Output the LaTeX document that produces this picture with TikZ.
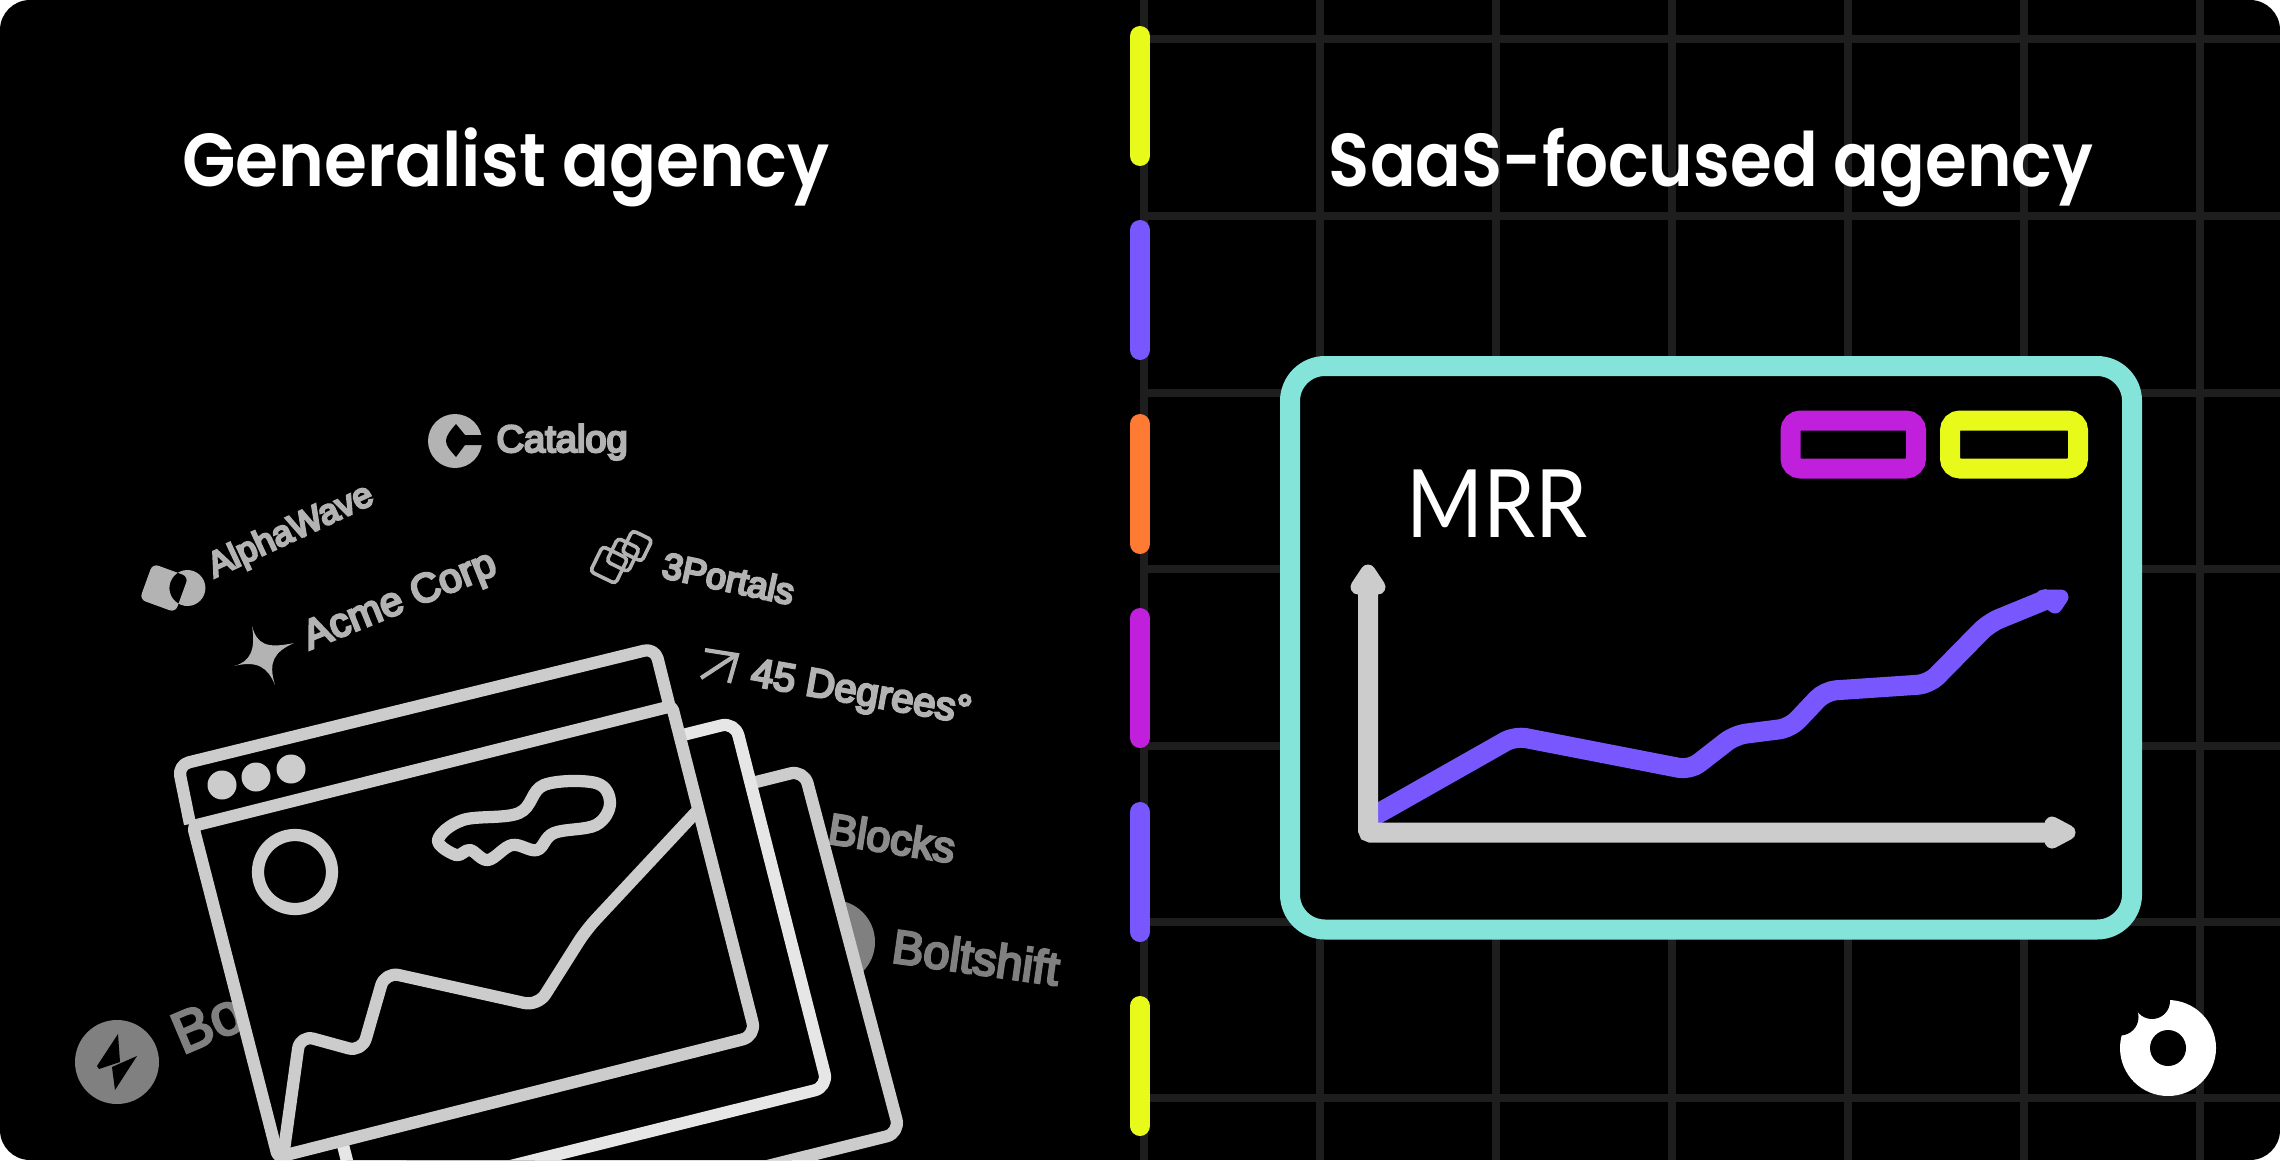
\documentclass[tikz,border=0pt]{standalone}
\usepackage{fontspec}
\setmainfont{Liberation Sans}
\newfontfamily\titlefont{Poppins SemiBold}
\newfontfamily\mrrfont{Lato}
\newcommand{\logosize}[1]{\fontsize{#1}{#1}\selectfont}
\newcommand{\medtext}[1]{\special{pdf:code 2 Tr 0.85 w}#1\special{pdf:code 0 Tr}}
\definecolor{barYellow}{RGB}{232,250,25}
\definecolor{barPurple}{RGB}{120,87,255}
\definecolor{barOrange}{RGB}{255,122,51}
\definecolor{barMagenta}{RGB}{192,32,220}
\definecolor{cardTeal}{RGB}{132,228,218}
\definecolor{gridGray}{RGB}{30,30,30}
\definecolor{frameGray}{RGB}{204,204,204}
\definecolor{frameLight}{RGB}{230,230,230}
\definecolor{logoGray}{RGB}{179,179,179}
\definecolor{logoMid}{RGB}{140,140,140}
\definecolor{logoDark}{RGB}{128,128,128}
\tikzset{
  gridline/.style={draw=gridGray,line width=2.88pt},
  sidebar/.style={line width=7.2pt,line cap=round},
  windowframe/.style={line width=4.4pt,fill=black,line join=round},
  windowline/.style={draw=frameGray,line width=4.4pt,line join=round},
  plotline/.style={line width=7.2pt,rounded corners=4pt},
  tiphead/.style={line width=5.4pt,line join=round},
  tagbox/.style={line width=7.2pt,rounded corners=3.6pt},
  logotext/.style={anchor=base west,inner sep=0pt,text=logoGray},
  titletext/.style={anchor=base,inner sep=0pt,text=white,font=\titlefont\logosize{27}},
}
\begin{document}
\begin{tikzpicture}[x=0.36pt,y=0.36pt,yscale=-1,xscale=1]
\useasboundingbox (0,0) rectangle (2280,1160);
\fill[white] (0,0) rectangle (2280,1160);
\clip[rounded corners=10.8pt] (0,0) rectangle (2280,1160);
\fill[black] (0,0) rectangle (2280,1160);

%Grid lines
\foreach \gx in {1144,1320,1496,1672,1848,2024,2200}
  \draw[gridline] (\gx,0) -- (\gx,1160);
\foreach \gy in {39.5,216,392.5,569,745.5,922,1098}
  \draw[gridline] (1144,\gy) -- (2280,\gy);

%Side bars
\draw[sidebar,barYellow] (1140,36) -- (1140,156);
\draw[sidebar,barPurple] (1140,230) -- (1140,350);
\draw[sidebar,barOrange] (1140,424) -- (1140,544);
\draw[sidebar,barMagenta] (1140,618) -- (1140,738);
\draw[sidebar,barPurple] (1140,812) -- (1140,932);
\draw[sidebar,barYellow] (1140,1006) -- (1140,1126);

% Text Node
\node[titletext,xscale=0.927] (generalist) at (506,187) {Generalist agency};
\node[titletext,xscale=0.90] (saas) at (1711,187) {SaaS-focused agency};

%Catalog logo
\fill[logoGray] (455,441) circle (27);
\fill[black] (456,424) -- (465,435) -- (484,435) -- (484,445) -- (465,445) -- (456,457) .. controls (450,450) and (446,446) .. (446,441) .. controls (446,436) and (450,431) .. (456,424) -- cycle;
\node[logotext,font=\logosize{13.7}] (catalog) at (496,452) {\medtext{Catalog}};

%AlphaWave logo
\fill[logoGray,even odd rule,shift={(164,588)},rotate=20,rounded corners=2.2pt] (-19,-19) rectangle (19,19) (22,-8) circle (18);
\node[logotext,font=\logosize{12.6},rotate=25] (alphawave) at (214,578) {\medtext{AlphaWave}};

%Acme logo
\fill[logoGray] (252,626) .. controls (257,644) and (266,649) .. (294,643) .. controls (274,652) and (268,662) .. (275,685) .. controls (268,668) and (258,660) .. (234,666) .. controls (250,662) and (256,650) .. (252,626) -- cycle;
\node[logotext,font=\logosize{14.7},rotate=22] (acme) at (309,650) {\medtext{Acme Corp}};

%3Portals logo
\draw[logoGray,line width=1.3pt,rounded corners=1.4pt,shift={(609,565)},rotate=26] (-14,-14) rectangle (14,14);
\draw[logoGray,line width=1.3pt,rounded corners=1.4pt,shift={(623,555)},rotate=26] (-12,-13) rectangle (12,13);
\draw[logoGray,line width=1.3pt,rounded corners=1.4pt,shift={(637,546)},rotate=26] (-11,-12) rectangle (11,12);
\node[logotext,font=\logosize{13.1},rotate=-12] (portals) at (660,577) {\medtext{3Portals}};

%45 Degrees logo
\draw[logoGray,line width=1.5pt] (701,678) -- (736,655);
\draw[logoGray,line width=1.5pt] (705,650) -- (737,655) -- (729,683);
\node[logotext,font=\logosize{14.4},rotate=-10] (degrees) at (749,685) {\medtext{45 Degrees°}};

%Blocks logo
\node[logotext,text=logoMid,font=\logosize{15.6},rotate=-9] (blocks) at (826,843) {\medtext{Blocks}};

%Boltshift logo
\fill[logoDark] (833,942) circle (42);
\node[logotext,text=logoDark,font=\logosize{17},rotate=-8] (boltshift) at (890,962) {\medtext{Boltshift}};

%Bolt logo
\fill[logoDark] (117,1062) circle (42);
\fill[black] (118,1034) -- (97,1066) -- (99,1069) -- (120,1062) -- cycle;
\fill[black] (137,1056) -- (115,1090) -- (112,1067) -- cycle;
\node[logotext,text=logoDark,font=\logosize{21},rotate=23] (bolt) at (182,1055) {\medtext{Bo}};

%Window stack
\draw[windowframe,draw=frameGray,rounded corners=5pt] (336,887) -- (804,770) -- (900,1133) -- (430,1250) -- cycle;
\draw[windowframe,draw=frameLight,rounded corners=5pt] (265,839) -- (735,722) -- (828,1087) -- (358,1204) -- cycle;
\draw[windowframe,draw=frameGray] (190,824) [rounded corners=4pt] -- (178,765) -- (655,648) [sharp corners] -- (669,704);
\draw[windowframe,draw=frameGray,rounded corners=1.5pt] (193,826) -- (672,706) [rounded corners=5pt] -- (756,1036) [rounded corners=1.5pt] -- (278,1157) -- cycle;

%Window dots
\fill[frameGray] (222,785) circle (14.5);
\fill[frameGray] (256,777) circle (14.5);
\fill[frameGray] (291,769) circle (14.5);

%Window picture
\draw[windowline] (295,872) circle (37);
\draw[windowline] plot[smooth cycle,tension=0.6] coordinates {(596,783) (544,785) (519,813) (463,820) (438,840) (456,855) (470,850) (488,860) (512,845) (537,850) (554,833) (596,825) (610,803)};
\draw[windowline,rounded corners=5pt] (284,1150) -- (300,1035) -- (362,1052) -- (385,972) -- (538,1006) -- (586,930) -- (698,810);

%Card
\draw[cardTeal,line width=7.2pt,fill=black,rounded corners=12.6pt] (1290,366) rectangle (2132,929.5);
\draw[tagbox,barMagenta] (1790.5,420.5) rectangle (1916,468.5);
\draw[tagbox,barYellow] (1950,420.5) rectangle (2078,468.5);
\node[anchor=base west,inner sep=0pt,text=white,font=\mrrfont\logosize{34},xscale=0.88] (mrr) at (1406,537) {MRR};

%Chart
\draw[plotline,barPurple] (1372,817) -- (1515,736) -- (1690,770) -- (1735,735) -- (1790,728) -- (1825,691) -- (1929,684) -- (1989,623) -- (2050,598);
\filldraw[tiphead,barPurple] (2061,597) -- (2043,597) -- (2055,606) -- cycle;
\draw[line width=7.2pt,frameGray,rounded corners=1pt] (1368,590) -- (1368,832.5) -- (2050,832.5);
\filldraw[tiphead,frameGray] (1368,572) -- (1358,587) -- (1378,587) -- cycle;
\filldraw[tiphead,frameGray] (2068,832.5) -- (2052,824) -- (2052,841) -- cycle;

%Donut badge
\fill[white] (2168,1048) circle (48);
\fill[black] (2168,1048) circle (18);
\fill[black] (2152,1001) circle (18);
\fill[black] (2120,1017) circle (18.5);

\end{tikzpicture}
\end{document}
